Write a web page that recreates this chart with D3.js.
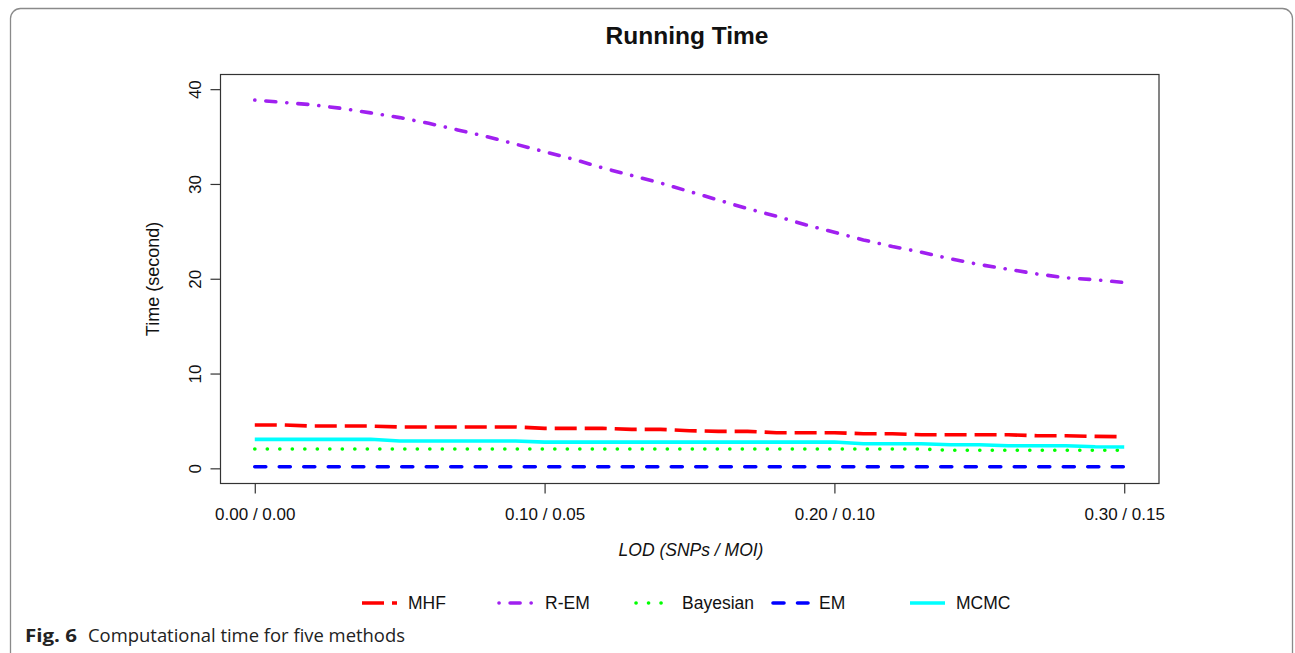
<!DOCTYPE html>
<html lang="en">
<head>
<meta charset="UTF-8" />
<title>Running Time</title>
<script src="https://d3js.org/d3.v7.min.js"></script>
<style>
  body { margin: 0; background: #fff; }
  svg { display: block; }
  .rt { font-family: "Liberation Sans", Arial, sans-serif; fill: #111; }
  .cap { font-family: "Open Sans", "Noto Sans", sans-serif; fill: #222; }
</style>
</head>
<body>
<svg width="1295" height="653"></svg>
<script>
// LOD values along the x axis (SNPs) and matching MOI labels
const snpLod = [0.00, 0.01, 0.02, 0.03, 0.04, 0.05, 0.06, 0.07, 0.08, 0.09, 0.10,
                0.11, 0.12, 0.13, 0.14, 0.15, 0.16, 0.17, 0.18, 0.19, 0.20,
                0.21, 0.22, 0.23, 0.24, 0.25, 0.26, 0.27, 0.28, 0.29, 0.30];
const tickSnp = [0.00, 0.10, 0.20, 0.30];
const tickLabels = ["0.00 / 0.00", "0.10 / 0.05", "0.20 / 0.10", "0.30 / 0.15"];
const yTicks = [0, 10, 20, 30, 40];

// running time (seconds) per method
const mhf = [4.57, 4.57, 4.46, 4.46, 4.46, 4.36, 4.36, 4.36, 4.36, 4.36, 4.22,
             4.22, 4.22, 4.11, 4.11, 3.97, 3.90, 3.90, 3.76, 3.76, 3.76,
             3.65, 3.65, 3.54, 3.54, 3.54, 3.54, 3.44, 3.44, 3.37, 3.33];
const rem = [38.85, 38.6, 38.35, 37.97, 37.5, 37.0, 36.4, 35.7, 35.0, 34.2, 33.4,
             32.6, 31.7, 30.9, 30.1, 29.2, 28.3, 27.4, 26.6, 25.7, 24.9,
             24.1, 23.4, 22.8, 22.1, 21.5, 21.0, 20.5, 20.1, 19.9, 19.6];
const bayes = [2.04, 2.04, 2.04, 2.04, 2.04, 2.04, 2.04, 2.04, 2.04, 2.04, 2.04,
               2.04, 2.04, 2.04, 2.04, 2.04, 2.04, 2.04, 2.04, 2.04, 2.04,
               2.04, 2.04, 2.04, 1.90, 1.90, 1.90, 1.90, 1.90, 1.90, 1.90];
const em = [0.17, 0.17, 0.17, 0.17, 0.17, 0.17, 0.17, 0.17, 0.17, 0.17, 0.17,
            0.17, 0.17, 0.17, 0.17, 0.17, 0.17, 0.17, 0.17, 0.17, 0.17,
            0.17, 0.17, 0.17, 0.17, 0.17, 0.17, 0.17, 0.17, 0.17, 0.17];
const mcmc = [3.06, 3.06, 3.06, 3.06, 3.06, 2.88, 2.88, 2.88, 2.88, 2.88, 2.77,
              2.77, 2.77, 2.77, 2.77, 2.77, 2.77, 2.77, 2.77, 2.77, 2.77,
              2.59, 2.59, 2.59, 2.49, 2.49, 2.38, 2.38, 2.38, 2.28, 2.25];

const seriesNames = ["MHF", "R-EM", "Bayesian", "EM", "MCMC"];
const seriesValues = [mhf, rem, bayes, em, mcmc];
const seriesColors = ["#ff0000", "#a020f0", "#00ff00", "#0000ff", "#00ffff"];
const seriesDash = ["22,8", "0.1,11,10,11", "0.1,12.4", "11,13.5", null];
const seriesCap = ["butt", "round", "round", "round", "butt"];

const svg = d3.select("svg");

// figure frame
svg.append("rect")
  .attr("x", 10.5).attr("y", 8.5).attr("width", 1282).attr("height", 720)
  .attr("rx", 10)
  .attr("fill", "none").attr("stroke", "#8a8a8a").attr("stroke-width", 1.3);

// scales (R style 4% padding)
const x = d3.scaleLinear().domain([-0.012, 0.312]).range([220, 1159]);
const y = d3.scaleLinear().domain([-1.6, 41.6]).range([483.5, 74]);

// plot box
svg.append("rect")
  .attr("x", 220.5).attr("y", 74.5).attr("width", 938.5).attr("height", 409)
  .attr("fill", "none").attr("stroke", "#333").attr("stroke-width", 1.2);

// axes
const xAxis = d3.axisBottom(x).tickValues(tickSnp)
  .tickFormat((d, i) => tickLabels[i]).tickSize(10).tickPadding(14);
const gx = svg.append("g").attr("transform", "translate(0,483.5)").call(xAxis);
gx.select(".domain").remove();
gx.selectAll("line").attr("stroke", "#333").attr("stroke-width", 1.2);
gx.selectAll("text").attr("class", "rt").attr("font-size", 17);

const yAxis = d3.axisLeft(y).tickValues(yTicks).tickSize(10).tickFormat(d3.format("d"));
const gy = svg.append("g").attr("transform", "translate(220.5,0)").call(yAxis);
gy.select(".domain").remove();
gy.selectAll("line").attr("stroke", "#333").attr("stroke-width", 1.2);
gy.selectAll("text").remove();
gy.selectAll(".tick").append("text")
  .attr("class", "rt")
  .attr("font-size", 17)
  .attr("text-anchor", "middle")
  .attr("transform", "translate(-25,0) rotate(-90)")
  .attr("dy", "0.35em")
  .text(d => d);

// lines
const line = d3.line().x((d, i) => x(snpLod[i])).y(d => y(d));
seriesValues.forEach((vals, k) => {
  svg.append("path")
    .datum(vals)
    .attr("d", line)
    .attr("fill", "none")
    .attr("stroke", seriesColors[k])
    .attr("stroke-width", 3.6)
    .attr("stroke-linecap", seriesCap[k])
    .attr("stroke-dasharray", seriesDash[k]);
});

// title and axis labels
svg.append("text").attr("class", "rt")
  .attr("x", 687).attr("y", 44).attr("text-anchor", "middle")
  .attr("font-size", 24.5).attr("font-weight", "bold")
  .text("Running Time");

svg.append("text").attr("class", "rt")
  .attr("transform", "translate(159,279) rotate(-90)")
  .attr("text-anchor", "middle").attr("font-size", 18)
  .text("Time (second)");

svg.append("text").attr("class", "rt")
  .attr("x", 691).attr("y", 556).attr("text-anchor", "middle")
  .attr("font-size", 17.5).attr("font-style", "italic")
  .text("LOD (SNPs / MOI)");

// legend
const legend = svg.append("g").attr("transform", "translate(362,603)");
seriesNames.forEach((name, k) => {
  const g = legend.append("g").attr("transform", `translate(${k * 137},0)`);
  g.append("line")
    .attr("x1", 0).attr("x2", 35).attr("y1", 0).attr("y2", 0)
    .attr("stroke", seriesColors[k]).attr("stroke-width", 3.6)
    .attr("stroke-linecap", seriesCap[k])
    .attr("stroke-dasharray", seriesDash[k]);
  g.append("text").attr("class", "rt")
    .attr("x", 46).attr("y", 0).attr("dy", "0.35em")
    .attr("font-size", 17.5)
    .text(name);
});

// caption
svg.append("text").attr("class", "cap")
  .attr("x", 25).attr("y", 642).attr("font-size", 17.5)
  .attr("font-weight", "bold")
  .attr("textLength", 52).attr("lengthAdjust", "spacingAndGlyphs")
  .text("Fig. 6");
svg.append("text").attr("class", "cap")
  .attr("x", 88).attr("y", 642).attr("font-size", 17.5)
  .attr("textLength", 317).attr("lengthAdjust", "spacingAndGlyphs")
  .text("Computational time for five methods");
</script>
</body>
</html>
